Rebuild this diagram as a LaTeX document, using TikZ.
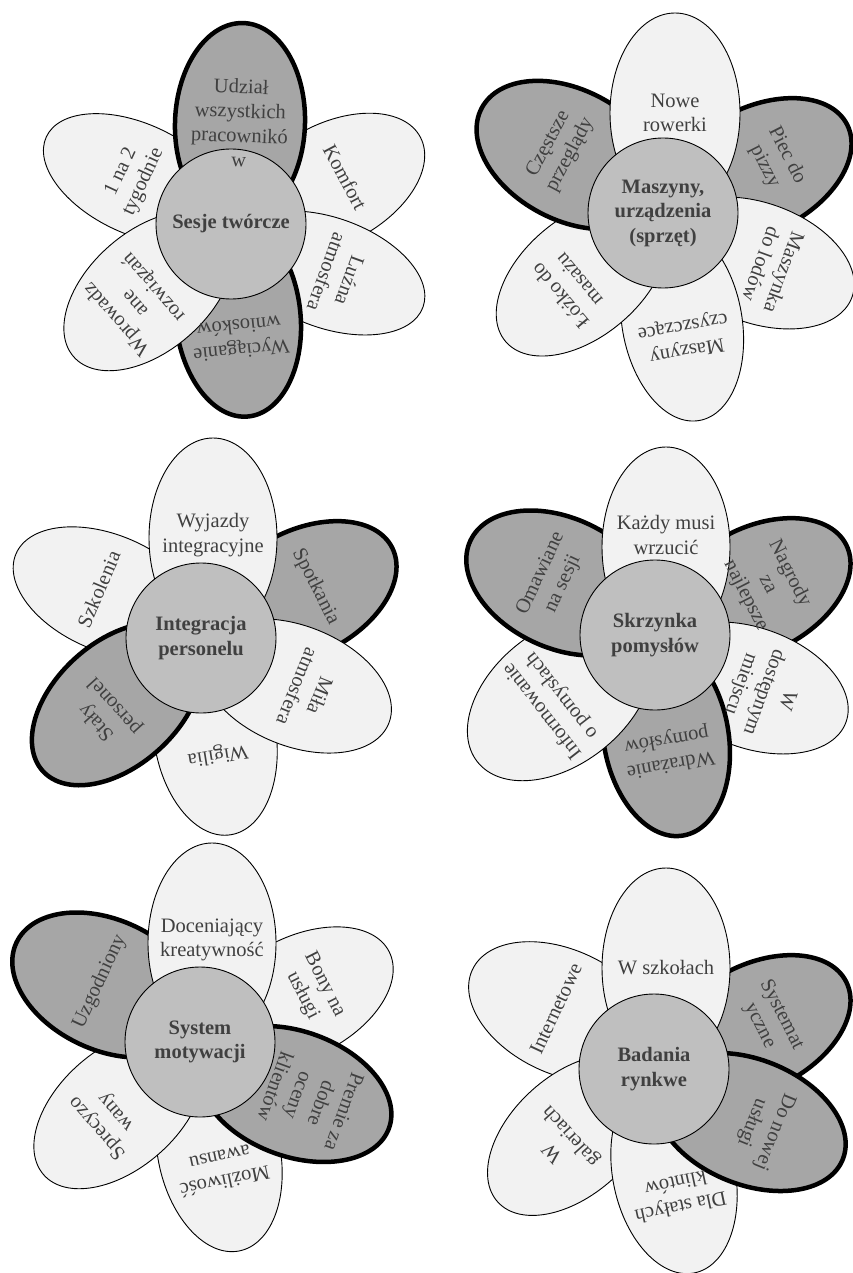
\documentclass[tikz,border=0pt]{standalone}
\usepackage{fontspec}
\setmainfont{Liberation Serif}
\usetikzlibrary{shapes.geometric, calc}
\definecolor{petallight}{RGB}{242, 242, 242}
\definecolor{petaldark}{RGB}{166, 166, 166}
\definecolor{hubgray}{RGB}{191, 191, 191}
\definecolor{textgray}{RGB}{64, 64, 64}
\pgfdeclarelayer{front}
\pgfsetlayers{main,front}

% name, position, direction, length, width, style, text shift, text
\newcommand{\flowerpetal}[8]{%
  \node[#6, minimum height=#4, minimum width=#5, rotate=#3-90] (#1) at (#2) {};
  \begin{pgfonlayer}{front}
    \node[petaltext, rotate=#3-90] (#1-t) at ($(#1.center)+(#3:#7)$) {#8};
  \end{pgfonlayer}
}

\begin{document}
\begin{tikzpicture}[x=1pt, y=1pt,
  lightpetal/.style={ellipse, draw=black, line width=0.9pt, fill=petallight, inner sep=0pt},
  darkpetal/.style={ellipse, draw=black, line width=4.5pt, fill=petaldark, inner sep=0pt},
  petaltext/.style={text=textgray, align=center, inner sep=0pt, font=\fontsize{20.5}{24.5}\selectfont},
  hub/.style={circle, draw=black, line width=0.9pt, fill=hubgray, minimum size=150pt, inner sep=0pt,
    text=textgray, align=center, font=\fontsize{20.5}{24.5}\selectfont\bfseries}]
  \path[use as bounding box, fill=white] (0,0) rectangle (852,-1273);

  % Sesje tworcze
  \flowerpetal{sesje-2}{332,-184}{28}{200}{120}{lightpetal}{15}{Komfort}
  \flowerpetal{sesje-3}{329,-273}{-20}{200}{110}{lightpetal}{10}{Luźna\\atmosfera}
  \flowerpetal{sesje-6}{137,-179}{155}{200}{110}{lightpetal}{5}{1 na 2\\tygodnie}
  \flowerpetal{sesje-4}{238,-317}{-84}{200}{125}{darkpetal}{22}{Wyciąganie\\wniosków}
  \flowerpetal{sesje-5}{149,-291}{-139}{200}{120}{lightpetal}{18}{Wprowadz\\ane\\rozwiązań}
  \flowerpetal{sesje-1}{240,-123}{88}{200}{130}{darkpetal}{0}{Udział\\wszystkich\\pracownikó\\w}
  \node[hub] (sesje) at (231,-224) {Sesje twórcze};

  % Maszyny, urzadzenia
  \flowerpetal{maszyny-2}{758,-170}{27}{200}{125}{darkpetal}{20}{Piec do\\pizzy}
  \flowerpetal{maszyny-3}{758,-263}{-20}{200}{120}{lightpetal}{16}{Maszynka\\do lodów}
  \flowerpetal{maszyny-4}{682,-322}{-80}{200}{120}{lightpetal}{16}{Maszyny\\czyszczące}
  \flowerpetal{maszyny-5}{582,-277}{-140}{200}{120}{lightpetal}{17}{Łóżko do\\masażu}
  \flowerpetal{maszyny-6}{570,-155}{152}{200}{130}{darkpetal}{12}{Częstsze\\przeglądy}
  \flowerpetal{maszyny-1}{675,-113}{90}{200}{130}{lightpetal}{0}{Nowe\\rowerki}
  \node[hub] (maszyny) at (663,-213) {Maszyny,\\urządzenia\\(sprzęt)};

  % Integracja personelu
  \flowerpetal{integracja-4}{215,-736}{-81}{200}{122}{lightpetal}{19}{Wigilia}
  \flowerpetal{integracja-2}{303,-593}{27}{200}{125}{darkpetal}{14}{Spotkania}
  \flowerpetal{integracja-3}{296,-686}{-22}{200}{120}{lightpetal}{14}{Miła\\atmosfera}
  \flowerpetal{integracja-6}{108,-593}{157}{200}{116}{lightpetal}{10}{Szkolenia}
  \flowerpetal{integracja-5}{117,-704}{-138}{200}{124}{darkpetal}{15}{Stały\\personel}
  \flowerpetal{integracja-1}{213,-538}{90}{200}{128}{lightpetal}{3}{Wyjazdy\\integracyjne}
  \node[hub] (integracja) at (201,-638) {Integracja\\personelu};

  % Skrzynka pomyslow
  \flowerpetal{skrzynka-2}{757,-590}{27}{200}{125}{darkpetal}{12}{Nagrody\\za\\najlepsze}
  \flowerpetal{skrzynka-3}{752,-688}{-20}{200}{120}{lightpetal}{12}{W\\dostępnym\\miejscu}
  \flowerpetal{skrzynka-4}{666,-737}{-80}{200}{125}{darkpetal}{15}{Wdrażanie\\pomysłów}
  \flowerpetal{skrzynka-5}{560,-697}{-142}{210}{135}{lightpetal}{10}{Informowanie\\o pomysłach}
  \flowerpetal{skrzynka-6}{561,-583}{155}{200}{130}{darkpetal}{10}{Omawiane\\na sesji}
  \flowerpetal{skrzynka-1}{666,-547}{90}{200}{128}{lightpetal}{12}{Każdy musi\\wrzucić}
  \node[hub] (skrzynka) at (655,-635) {Skrzynka\\pomysłów};

  % System motywacji
  \flowerpetal{system-2}{300,-997}{27}{200}{120}{lightpetal}{15}{Bony na\\usługi}
  \flowerpetal{system-4}{219,-1153}{-78}{200}{122}{lightpetal}{17}{Możliwość\\awansu}
  \flowerpetal{system-5}{119,-1109}{-139}{200}{120}{lightpetal}{16}{Sprecyzo\\wany}
  \flowerpetal{system-3}{295,-1094}{-20}{200}{125}{darkpetal}{16}{Premie za\\dobre\\oceny\\klientów}
  \flowerpetal{system-6}{107,-985}{155}{200}{130}{darkpetal}{8}{Uzgodniony}
  \flowerpetal{system-1}{212,-943}{90}{200}{128}{lightpetal}{3}{Doceniający\\kreatywność}
  \node[hub] (system) at (200,-1042) {System\\motywacji};

  % Badania rynkowe
  \flowerpetal{badania-6}{563,-1012}{155}{200}{124}{lightpetal}{8}{Internetowe}
  \flowerpetal{badania-5}{572,-1135}{-138}{200}{120}{lightpetal}{13}{W\\galeriach}
  \flowerpetal{badania-4}{674,-1175}{-78}{200}{122}{lightpetal}{21}{Dla stałych\\klintów}
  \flowerpetal{badania-2}{757,-1027}{27}{200}{125}{darkpetal}{15}{Systemat\\yczne}
  \flowerpetal{badania-3}{750,-1122}{-22}{200}{125}{darkpetal}{14}{Do nowej\\usługi}
  \flowerpetal{badania-1}{666,-968}{90}{200}{128}{lightpetal}{0}{W szkołach}
  \node[hub] (badania) at (654,-1069) {Badania\\rynkwe};
\end{tikzpicture}
\end{document}
